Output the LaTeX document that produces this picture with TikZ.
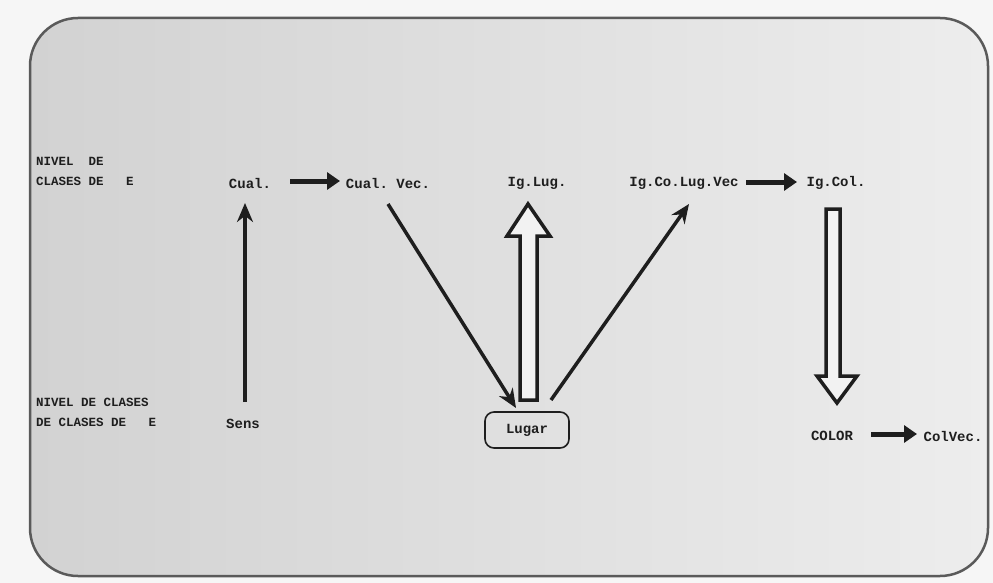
\documentclass[tikz,border=0pt]{standalone}
\usepackage{fontspec}
\setmonofont{Liberation Mono}
\usetikzlibrary{arrows.meta}
\definecolor{paperL}{HTML}{D2D2D2}
\definecolor{paperR}{HTML}{EDEDED}
\definecolor{ink}{HTML}{1E1E1E}
\definecolor{frameC}{HTML}{5A5A5A}
\tikzset{
  lbl/.style={font=\ttfamily\bfseries\fontsize{14}{14}\selectfont, text=ink, inner sep=2pt},
  side/.style={font=\ttfamily\bfseries\fontsize{12.5}{20}\selectfont, text=ink, align=left, anchor=west, inner sep=0pt},
  linearr/.style={draw=ink, line width=3.5pt, -{Stealth[length=19pt,width=16pt]}},
  boldarr/.style={draw=ink, line width=5pt, -{Triangle[length=13pt,width=17pt]}},
  hollow/.style={draw=ink, line width=3.5pt, line join=miter, fill=white!90!gray},
}
\begin{document}
\begin{tikzpicture}[x=1pt,y=-1pt]
\useasboundingbox (0,0) rectangle (993,583);
\fill[white!93!gray] (0,0) rectangle (993,583);
\shade[left color=paperL,right color=paperR,rounded corners=48pt] (30,18) rectangle (988,576);
\draw[frameC,line width=2.5pt,rounded corners=48pt] (30,18) rectangle (988,576);

% side labels
\node[side] (n1) at (36,171) {NIVEL\ \ DE\\CLASES DE\ \ \ E};
\node[side] (n2) at (36,412) {NIVEL DE CLASES\\DE CLASES DE\ \ \ E};

% top row
\node[lbl] (cual) at (250,183) {Cual.};
\node[lbl] (cvec) at (388,183) {Cual. Vec.};
\node[lbl] (iglug) at (537,183) {Ig.Lug.};
\node[lbl] (igco) at (684,183) {Ig.Co.Lug.Vec};
\node[lbl] (igcol) at (836,183) {Ig.Col.};

% bottom row
\node[lbl] (sens) at (243,424) {Sens};
\node[lbl, draw=ink, line width=1.6pt, rounded corners=9pt, minimum width=84pt, minimum height=36pt] (lugar) at (527,430) {Lugar};
\node[lbl] (color) at (832,436) {COLOR};
\node[lbl] (colvec) at (953,436) {ColVec.};

% arrows
\coordinate (a1s) at (290,181); \coordinate (a1e) at (340,181);
\draw[boldarr] (a1s) -- (a1e);
\coordinate (a2s) at (746,182); \coordinate (a2e) at (797,182);
\draw[boldarr] (a2s) -- (a2e);
\coordinate (a3s) at (871,434); \coordinate (a3e) at (917,434);
\draw[boldarr] (a3s) -- (a3e);
\coordinate (s0) at (245,402); \coordinate (s1) at (245,203);
\draw[linearr] (s0) -- (s1);
\coordinate (c0) at (388,204); \coordinate (c1) at (516,408);
\draw[linearr] (c0) -- (c1);
\coordinate (l0) at (551,400); \coordinate (l1) at (689,204);
\draw[linearr] (l0) -- (l1);

% hollow arrow up Lugar -> Ig.Lug.
\draw[hollow] (520,400) -- (520,236) -- (507,236) -- (528,204) -- (550,236) -- (537,236) -- (537,400) -- cycle;
% hollow arrow down Ig.Col. -> COLOR
\draw[hollow] (826,209) -- (826,376) -- (817,376) -- (837,403) -- (857,376) -- (840,376) -- (840,209) -- cycle;
\end{tikzpicture}
\end{document}
